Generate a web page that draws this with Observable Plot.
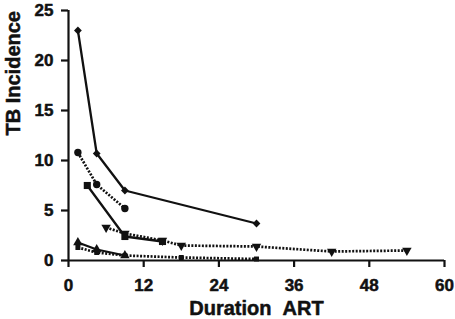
<!DOCTYPE html>
<html><head><meta charset="utf-8">
<script src="https://cdn.jsdelivr.net/npm/d3@7"></script>
<script src="https://cdn.jsdelivr.net/npm/@observablehq/plot@0.6"></script>
<style>
body{margin:0;background:#fff}
</style>
</head><body><div id="chart"></div>
<script>
// Data (months on ART, TB incidence)
const diamondMonths = [1.5, 4.5, 9, 30];
const diamondRate   = [23, 10.7, 7, 3.7];
const circleMonths  = [1.5, 4.5, 9];
const circleRate    = [10.8, 7.6, 5.2];
const squareMonths  = [3, 9, 15];
const squareRate    = [7.5, 2.4, 1.9];
const triDownMonths = [6, 9, 15, 18, 30, 42, 54];
const triDownRate   = [3.3, 2.7, 2.0, 1.5, 1.4, 0.9, 1.0];
const triUpMonths   = [1.5, 4.5, 9];
const triUpRate     = [1.8, 1.1, 0.5];
const smallSqMonths = [1.5, 4.5, 9, 18, 30];
const smallSqRate   = [1.3, 0.8, 0.5, 0.3, 0.15];
const xTicks = [0, 12, 24, 36, 48, 60];
const yTicks = [0, 5, 10, 15, 20, 25];
const xTitle = "Duration\u00a0\u00a0ART";
const yTitle = "TB Incidence";

const seriesData = {
  diamond: [diamondMonths, diamondRate],
  circle: [circleMonths, circleRate],
  triDown: [triDownMonths, triDownRate],
  square: [squareMonths, squareRate],
  triUp: [triUpMonths, triUpRate],
  smallSq: [smallSqMonths, smallSqRate]
};
const styles = {
  diamond: {symbol: "square", r: 3.1, rotate: 45, dash: null},
  circle:  {symbol: "circle", r: 3.7, rotate: 0, dash: "2,1.5"},
  triDown: {symbol: "triangle", r: 3.5, rotate: 180, dash: "2,1.5"},
  square:  {symbol: "square", r: 4.0, rotate: 0, dash: null},
  triUp:   {symbol: "triangle", r: 3.5, rotate: 0, dash: null},
  smallSq: {symbol: "square", r: 2.8, rotate: 0, dash: "2,1.5"}
};
const rows = Object.entries(seriesData).flatMap(([name, [ms, rs]]) =>
  ms.map((m, i) => ({series: name, month: m, rate: rs[i]})));

const ink = "#111";
const font = "'Liberation Sans', Arial, sans-serif";
const marks = [];
for (const name of Object.keys(seriesData)) {
  const s = styles[name];
  const data = rows.filter(d => d.series === name);
  marks.push(Plot.line(data, {x: "month", y: "rate", stroke: ink,
    strokeWidth: s.dash ? 2.7 : 2.3, strokeDasharray: s.dash || undefined,
    strokeLinecap: "butt", strokeLinejoin: "miter"}));
}
for (const name of Object.keys(seriesData)) {
  const s = styles[name];
  const data = rows.filter(d => d.series === name);
  marks.push(Plot.dot(data, {x: "month", y: "rate", symbol: s.symbol, r: s.r,
    fill: ink, stroke: "none", rotate: s.rotate}));
}
const textStyle = {fontFamily: font, fontWeight: "bold", fill: ink, stroke: ink, strokeWidth: 0.5};

const chart = Plot.plot({
  width: 455, height: 319,
  marginLeft: 68, marginRight: 11, marginTop: 10, marginBottom: 59,
  style: {fontFamily: font, fontWeight: "bold", color: "#111", background: "#fff", overflow: "visible"},
  x: {domain: [0, 60]},
  y: {domain: [0, 25]},
  marks: [
    Plot.ruleX([0], {y1: 0, y2: 25, stroke: ink, strokeWidth: 2.2}),
    Plot.ruleY([0], {x1: 0, x2: 60, stroke: ink, strokeWidth: 2.2}),
    Plot.axisX({ticks: xTicks, tickSize: 7, strokeWidth: 2.2, stroke: ink, tickFormat: () => "", label: null}),
    Plot.axisY({ticks: yTicks, tickSize: 7, strokeWidth: 2.2, stroke: ink, tickFormat: () => "", label: null}),
    Plot.text(xTicks, {x: d => d, text: d => String(d), frameAnchor: "bottom", dy: 18, lineAnchor: "top",
      fontSize: 17, ...textStyle}),
    Plot.text(yTicks, {y: d => d, text: d => String(d), frameAnchor: "left", dx: -15, textAnchor: "end",
      lineAnchor: "middle", fontSize: 17, ...textStyle}),
    ...marks,
    Plot.text([xTitle], {text: d => d, frameAnchor: "bottom", dy: 48, lineAnchor: "middle",
      fontSize: 20, ...textStyle}),
    Plot.text([yTitle], {text: d => d, frameAnchor: "left", dx: -55, rotate: -90, lineAnchor: "middle",
      fontSize: 20, ...textStyle})
  ]
});
document.getElementById("chart").appendChild(chart);
</script>
</body></html>
